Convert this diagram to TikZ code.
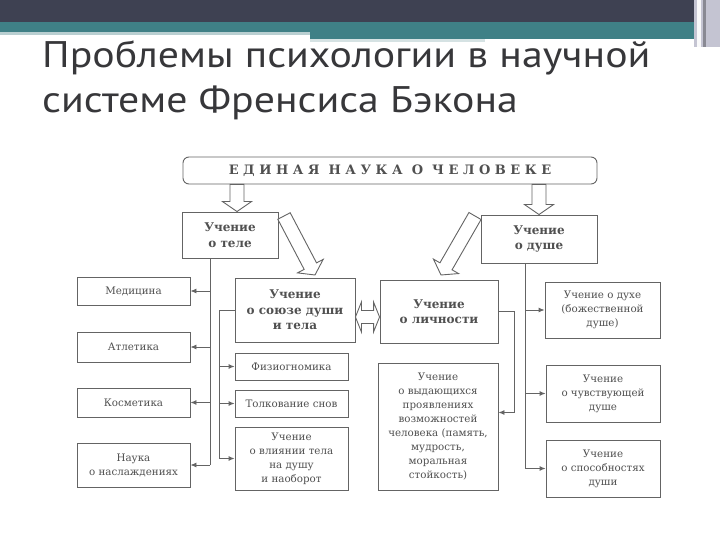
\documentclass[tikz,border=0pt]{standalone}
\usepackage{fontspec}
\setmainfont{DejaVu Serif}
\newfontfamily\titlefont[FakeStretch=1.13]{PT Sans}
\newfontfamily\spacedfont[LetterSpace=35]{DejaVu Serif}
\usetikzlibrary{arrows.meta, positioning, calc}
\definecolor{slideDark}{RGB}{62,65,82}
\definecolor{slideTeal}{RGB}{63,128,134}
\definecolor{slideLight}{RGB}{185,207,209}
\definecolor{barGrey}{RGB}{196,196,210}
\definecolor{titleColor}{RGB}{55,55,58}
\definecolor{inkColor}{RGB}{80,80,80}
\definecolor{lineColor}{RGB}{100,100,100}

% hollow block arrow from #1 to #2
\newcommand\hollowlink[2]{%
  \path let \p1=(#1), \p2=(#2),
    \n1={atan2(\y2-\y1,\x2-\x1)}, \n2={veclen(\x2-\x1,\y2-\y1)} in
    \pgfextra{\xdef\hlAngle{\n1}\xdef\hlLength{\n2}};
  \draw[hollow, shift={(#1)}, rotate=\hlAngle, x=1pt, y=1pt]
    (0,-7) -- (\hlLength-10,-7) -- (\hlLength-10,-14.5) -- (\hlLength,0)
    -- (\hlLength-10,14.5) -- (\hlLength-10,7) -- (0,7) -- cycle;%
}
% hollow double block arrow between #1 and #2
\newcommand\hollowpair[2]{%
  \path let \p1=(#1), \p2=(#2),
    \n1={atan2(\y2-\y1,\x2-\x1)}, \n2={veclen(\x2-\x1,\y2-\y1)} in
    \pgfextra{\xdef\hlAngle{\n1}\xdef\hlLength{\n2}};
  \draw[hollow, shift={(#1)}, rotate=\hlAngle, x=1pt, y=1pt]
    (0,0) -- (6,-15) -- (6,-6.5) -- (\hlLength-6,-6.5) -- (\hlLength-6,-15) -- (\hlLength,0)
    -- (\hlLength-6,15) -- (\hlLength-6,6.5) -- (6,6.5) -- (6,15) -- cycle;%
}

\begin{document}
\begin{tikzpicture}[x=1pt, y=-1pt,
    every node/.style={text=inkColor},
    box/.style={
        draw=lineColor, line width=0.9pt, align=center, inner sep=2pt,
        font=\fontsize{10.3}{14}\selectfont
    },
    headbox/.style={box, font=\fontsize{12}{15.5}\selectfont\bfseries},
    link/.style={draw=lineColor, line width=0.9pt},
    tip/.style={link, -{Latex[length=6pt, width=5pt]}},
    hollow/.style={draw=lineColor, line width=0.9pt, line join=miter, fill=white},
    slidetitle/.style={anchor=base west, inner sep=0pt, text=titleColor,
        font=\titlefont\fontsize{37}{45}\selectfont}
]
    \useasboundingbox[fill=white] (0,0) rectangle (720,540);

    % slide header bands
    \fill[slideDark] (0,0) rectangle (720,22);
    \fill[slideTeal] (0,22) rectangle (694,32);
    \fill[slideLight] (0,32) rectangle (310,35);
    \fill[slideTeal] (310,32) rectangle (694,39);
    \fill[slideLight!60] (310,39) rectangle (485,42);
    \fill[barGrey] (694,0) rectangle (720,47);
    \fill[white!90!barGrey] (697,0) rectangle (701,47);
    \fill[barGrey!70!black] (703,0) rectangle (706,47);

    \node[slidetitle] (title1) at (42,68) {Проблемы психологии в научной};
    \node[slidetitle] (title2) at (42,113) {системе Френсиса Бэкона};

    % boxes
    \node[box, rounded corners=6pt, minimum width=414, minimum height=27] (unity) at (390,170.5)
        {\fontsize{13}{15}\spacedfont\bfseries ЕДИНАЯ НАУКА О ЧЕЛОВЕКЕ};
    \node[headbox, minimum width=96, minimum height=46] (body) at (230,235) {Учение\\о теле};
    \node[headbox, minimum width=116, minimum height=48] (soul) at (539,239) {Учение\\о душе};

    \node[box, minimum width=113, minimum height=28] (med) at (133.5,291) {Медицина};
    \node[box, minimum width=113, minimum height=30] (athl) at (133.5,347) {Атлетика};
    \node[box, minimum width=113, minimum height=29] (cosm) at (133.5,402.5) {Косметика};
    \node[box, minimum width=113, minimum height=44] (pleas) at (133.5,465) {Наука\\о наслаждениях};

    \node[headbox, minimum width=120, minimum height=64] (union) at (295,310) {Учение\\о союзе души\\и тела};
    \node[box, minimum width=113, minimum height=27] (physio) at (291.5,366.5) {Физиогномика};
    \node[box, minimum width=113, minimum height=27] (dreams) at (291.5,403.5) {Толкование снов};
    \node[box, minimum width=113, minimum height=63] (infl) at (291.5,458.5)
        {Учение\\о влиянии тела\\на душу\\и наоборот};

    \node[headbox, minimum width=118, minimum height=63] (person) at (439,311.5) {Учение\\о личности};
    \node[box, minimum width=120, minimum height=127] (outst) at (438,426.5)
        {Учение\\о выдающихся\\проявлениях\\возможностей\\человека (память,\\мудрость,\\моральная\\стойкость)};

    \node[box, minimum width=115, minimum height=56] (spirit) at (602.5,310) {Учение о духе\\(божественной\\душе)};
    \node[box, minimum width=114, minimum height=57] (feel) at (603,393.5) {Учение\\о чувствующей\\душе};
    \node[box, minimum width=114, minimum height=57] (abil) at (603,468.5) {Учение\\о способностях\\души};

    % spines
    \coordinate (bspine) at (210,0);
    \coordinate (uspine) at (219,0);
    \coordinate (pspine) at (514,0);
    \coordinate (sspine) at (525,0);
    \coordinate (outin) at ($(outst.east)+(0,-14)$);

    \draw[link] (body.south -| bspine) -- (pleas.east -| bspine);
    \foreach \b in {med,athl,cosm,pleas}
        \draw[tip] (\b.east -| bspine) -- (\b.east);

    \draw[link] (union.west) -- (union.west -| uspine) -- (infl.west -| uspine);
    \foreach \b in {physio,dreams,infl}
        \draw[tip] (\b.west -| uspine) -- (\b.west);

    \draw[tip] (person.east) -| (pspine |- outin) -- (outin);

    \draw[link] (soul.south -| sspine) -- (abil.west -| sspine);
    \foreach \b in {spirit,feel,abil}
        \draw[tip] (\b.west -| sspine) -- (\b.west);

    % hollow arrows
    \coordinate (lcol) at (237,0);
    \coordinate (rcol) at (539,0);
    \coordinate (bodyout) at (284,216);
    \coordinate (unionin) at (315,275);
    \coordinate (soulout) at (475,216);
    \coordinate (personin) at (441,275);
    \coordinate (pairmid) at (0,317);
    \hollowlink{unity.south -| lcol}{body.north -| lcol}
    \hollowlink{unity.south -| rcol}{soul.north -| rcol}
    \hollowlink{bodyout}{unionin}
    \hollowlink{soulout}{personin}
    \hollowpair{union.east |- pairmid}{person.west |- pairmid}
\end{tikzpicture}
\end{document}
